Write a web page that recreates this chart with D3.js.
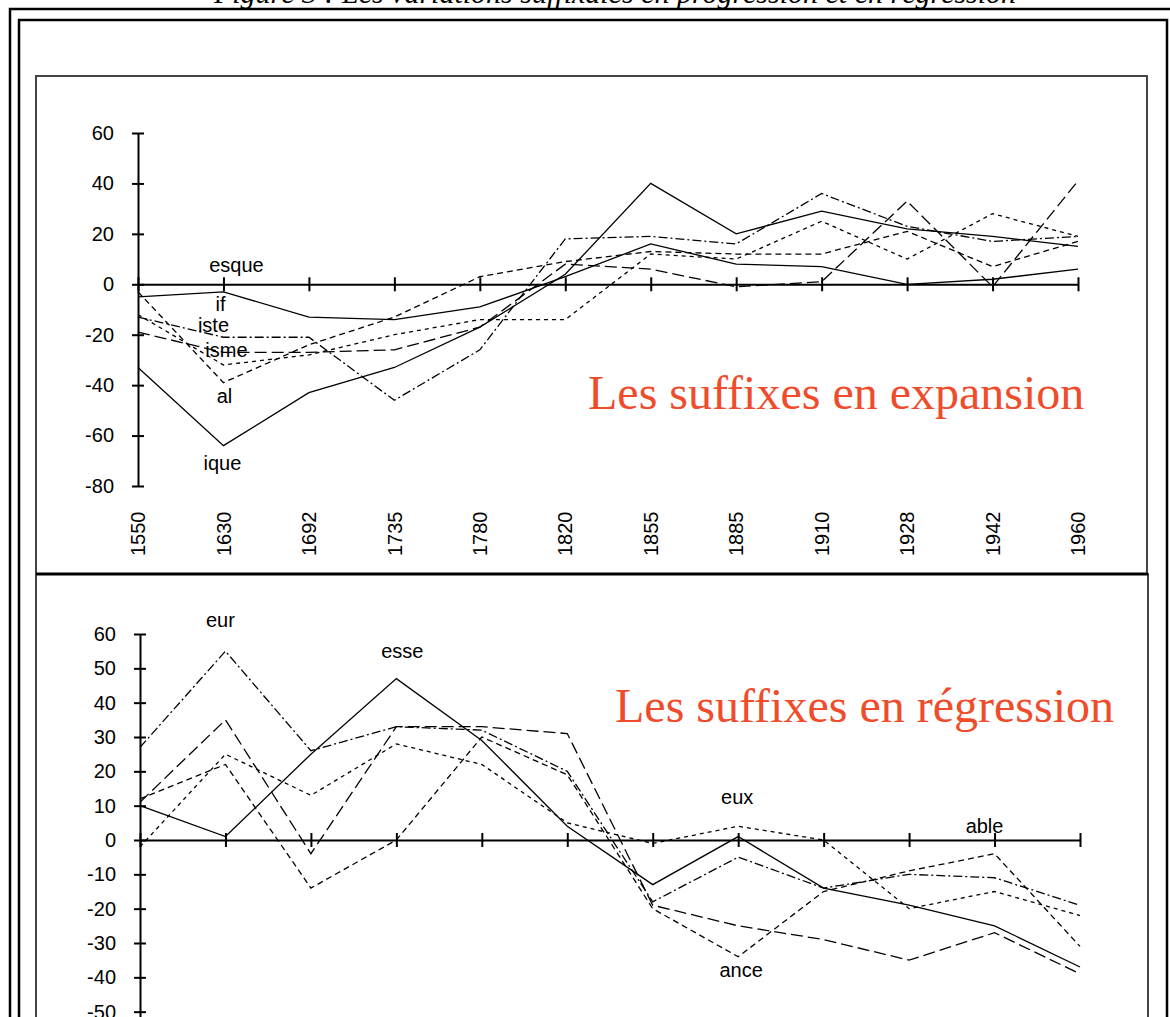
<!DOCTYPE html>
<html>
<head>
<meta charset="utf-8">
<script src="https://cdn.jsdelivr.net/npm/d3@7"></script>
<style>
  body { margin: 0; background: #fff; overflow: hidden; }
  svg { display: block; }
  text { font-family: "Liberation Sans", Arial, sans-serif; }
</style>
</head>
<body>
<script>
// categories (years, equally spaced on the chart)
const years = ["1550", "1630", "1692", "1735", "1780", "1820", "1855", "1885", "1910", "1928", "1942", "1960"];

// suffixes en expansion
const ifVals    = [-5, -3, -13, -14, -9, 3, 16, 8, 7, 0, 2, 6];
const iqueVals  = [-33, -64, -43, -33, -17, 4, 40, 20, 29, 22, 19, 15];
const alVals    = [-3, -39, -24, -13, 3, 9, 13, 12, 12, 21, 7, 17];
const isteVals  = [-13, -21, -21, -46, -26, 18, 19, 16, 36, 23, 17, 19];
const ismeVals  = [-19, -27, -27, -26, -17, 8, 6, -1, 1, 33, -1, 41];
const esqueVals = [-12, -32, -28, -20, -14, -14, 12, 10, 25, 10, 28, 19];
const topTicks = [60, 40, 20, 0, -20, -40, -60, -80];

// suffixes en régression
const esseVals = [10, 1, 25, 47, 29, 4, -13, 1, -14, -19, -25, -37];
const eurVals  = [27, 55, 26, 33, 32, 20, -18, -5, -14, -10, -11, -19];
const euxVals  = [-2, 25, 13, 28, 22, 5, -1, 4, 0, -20, -15, -22];
const anceVals = [12, 22, -14, 0, 30, 19, -20, -34, -15, -9, -4, -31];
const ableVals = [11, 35, -4, 33, 33, 31, -19, -25, -29, -35, -27, -39];
const bottomTicks = [60, 50, 40, 30, 20, 10, 0, -10, -20, -30, -40, -50];

// where the suffix names sit: [name, year, value]
const topLabels = [["esque", "1630", 7.5], ["if", "1630", -8], ["iste", "1630", -16],
                   ["isme", "1630", -26], ["al", "1630", -44.5], ["ique", "1630", -71]];
const bottomLabels = [["eur", "1630", 64], ["esse", "1735", 55], ["eux", "1885", 12.5],
                      ["ance", "1885", -38], ["able", "1942", 4]];

const W = 1170, H = 1017;
const svg = d3.select("body").append("svg").attr("width", W).attr("height", H);

// caption above the table (cut by the top of the picture)
svg.append("text")
  .attr("x", 615).attr("y", 3)
  .attr("text-anchor", "middle")
  .style("font-family", "'Liberation Serif', 'Times New Roman', serif")
  .style("font-style", "italic")
  .style("font-size", "30px")
  .text("Figure 3 : Les variations suffixales en progression et en régression");

// frames
svg.append("rect").attr("x", 10).attr("y", 9).attr("width", 1200).attr("height", 1100)
  .attr("fill", "none").attr("stroke", "#000").attr("stroke-width", 2.5);
svg.append("rect").attr("x", 19).attr("y", 20).attr("width", 1148).attr("height", 1100)
  .attr("fill", "none").attr("stroke", "#000").attr("stroke-width", 2.5);
svg.append("rect").attr("x", 36).attr("y", 76).attr("width", 1111).attr("height", 498)
  .attr("fill", "none").attr("stroke", "#444").attr("stroke-width", 2);
svg.append("rect").attr("x", 36).attr("y", 574).attr("width", 1112).attr("height", 600)
  .attr("fill", "none").attr("stroke", "#444").attr("stroke-width", 2);
svg.append("line").attr("x1", 36).attr("x2", 1148).attr("y1", 574).attr("y2", 574)
  .attr("stroke", "#000").attr("stroke-width", 3);

function drawPanel(xRange, yDomain, yRange, ticks, series, labels) {
  const x = d3.scalePoint().domain(years).range(xRange);
  const y = d3.scaleLinear().domain(yDomain).range(yRange);
  const g = svg.append("g");

  // y axis with ticks crossing the line
  const ya = g.append("g")
    .attr("transform", `translate(${xRange[0]},0)`)
    .call(d3.axisLeft(y).tickValues(ticks).tickSize(6).tickSizeOuter(0).tickPadding(18)
      .tickFormat(d => String(d)));
  ya.selectAll(".tick line").attr("x1", 6);

  // x axis on the zero line
  const xa = g.append("g")
    .attr("transform", `translate(0,${y(0)})`)
    .call(d3.axisBottom(x).tickSize(7).tickSizeOuter(0).tickFormat(""));
  xa.selectAll(".tick line").attr("y1", -7);

  g.selectAll(".domain").attr("stroke", "#000").attr("stroke-width", 2);
  g.selectAll(".tick line").attr("stroke", "#000").attr("stroke-width", 2);
  g.selectAll(".tick text").style("font-size", "20px").attr("fill", "#000")
    .style("font-family", "'Liberation Sans', Arial, sans-serif");

  const line = d3.line().x((d, i) => x(years[i])).y(d => y(d));
  g.selectAll(".series")
    .data(series)
    .enter()
    .append("path")
    .attr("class", "series")
    .attr("d", d => line(d.values))
    .attr("fill", "none")
    .attr("stroke", "#000")
    .attr("stroke-width", 1.3)
    .attr("stroke-dasharray", d => d.dash);

  g.selectAll(".lab")
    .data(labels)
    .enter()
    .append("text")
    .attr("class", "lab")
    .attr("x", d => x(d[1]) + (d[3] || 0))
    .attr("y", d => y(d[2]))
    .attr("dy", "0.35em")
    .attr("text-anchor", "middle")
    .style("font-size", "20px")
    .text(d => d[0]);

  return { x, y, g };
}

// upper panel: en expansion
const topPanel = drawPanel([138, 1078], [-80, 60], [486, 133], topTicks, [
  { values: ifVals, dash: null },
  { values: iqueVals, dash: null },
  { values: alVals, dash: "6,4" },
  { values: isteVals, dash: "9,3,2,3" },
  { values: ismeVals, dash: "12,5" },
  { values: esqueVals, dash: "4,4" }
], topLabels.map((d, i) => d.concat([[13, -3, -10, 3, 1, -1][i]])));

topPanel.g.selectAll(".year")
  .data(years)
  .enter()
  .append("text")
  .attr("class", "year")
  .attr("transform", d => `translate(${topPanel.x(d)},556) rotate(-90)`)
  .attr("dy", "0.36em")
  .style("font-size", "20px")
  .text(d => d);

svg.append("text")
  .attr("x", 588).attr("y", 409)
  .style("font-family", "'Liberation Serif', 'Times New Roman', serif")
  .style("font-size", "48px")
  .attr("fill", "#ef4c2c")
  .text("Les suffixes en expansion");

// lower panel: en régression
drawPanel([140, 1080], [-60, 60], [1046, 634], bottomTicks, [
  { values: esseVals, dash: null },
  { values: eurVals, dash: "9,3,2,3" },
  { values: euxVals, dash: "4,4" },
  { values: anceVals, dash: "6,4" },
  { values: ableVals, dash: "12,5" }
], bottomLabels.map((d, i) => d.concat([[-5, 6, -1, 3, -10][i]])));

svg.append("text")
  .attr("x", 615).attr("y", 722)
  .style("font-family", "'Liberation Serif', 'Times New Roman', serif")
  .style("font-size", "48px")
  .attr("fill", "#ef4c2c")
  .text("Les suffixes en régression");
</script>
</body>
</html>
